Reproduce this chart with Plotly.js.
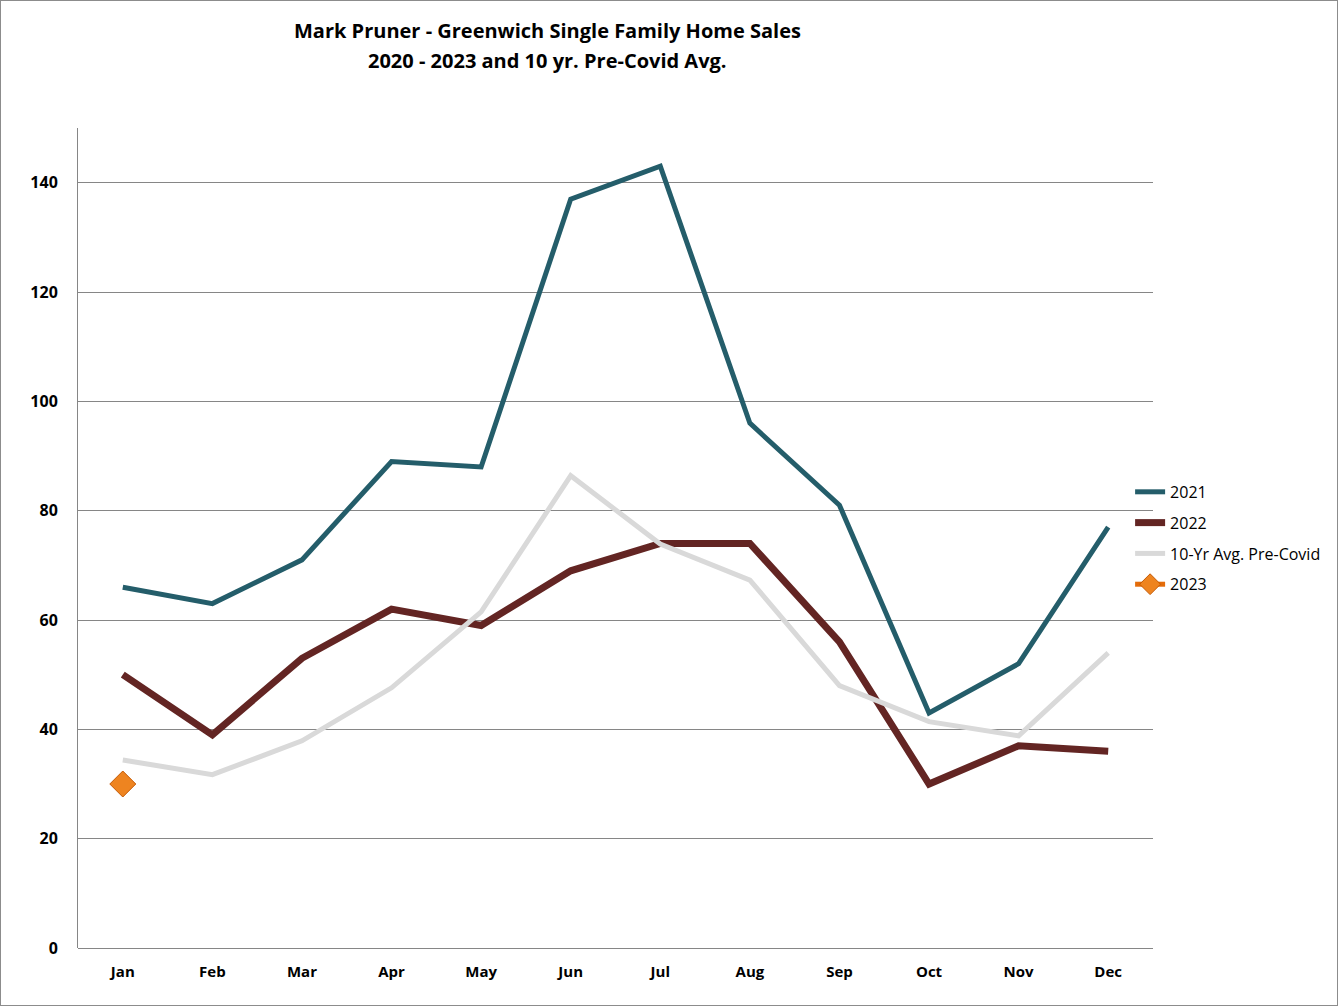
<!DOCTYPE html>
<html>
<head>
<meta charset="utf-8">
<script src="https://cdn.plot.ly/plotly-3.0.1.min.js"></script>
<style>
html,body{margin:0;padding:0;background:#fff;}
#wrap{position:relative;width:1338px;height:1006px;}
#chart{width:1338px;height:1006px;}
#frame{position:absolute;left:0;top:0;width:1338px;height:1006px;box-sizing:border-box;border:1px solid #8c8c8c;pointer-events:none;}
</style>
</head>
<body>
<div id="wrap"><div id="chart"></div><div id="frame"></div></div>
<script>
const months = ["Jan","Feb","Mar","Apr","May","Jun","Jul","Aug","Sep","Oct","Nov","Dec"];
const sales2021 = [66,63,71,89,88,137,143,96,81,43,52,77];
const sales2022 = [50,39,53,62,59,69,74,74,56,30,37,36];
const avgPreCovid = [34.4,31.7,37.9,47.6,61.5,86.4,73.9,67.3,48,41.4,38.8,54];
const sales2023 = [30];
const months2023 = months.slice(0, sales2023.length);
const titleLines = ["Mark Pruner - Greenwich Single Family Home Sales", "2020 - 2023 and 10 yr. Pre-Covid Avg."];

const font = "'Open Sans', 'Noto Sans', sans-serif";

const traces = [
  {x: months, y: sales2021, name: "2021", type: "scatter", mode: "lines", legendgroup: "g1",
   line: {color: "#245d6a", width: 5}},
  {x: months, y: sales2022, name: "2022", type: "scatter", mode: "lines", legendgroup: "g2",
   line: {color: "#632523", width: 7}},
  {x: months, y: avgPreCovid, name: "10-Yr Avg. Pre-Covid", type: "scatter", mode: "lines", legendgroup: "g3",
   line: {color: "#d9d9d9", width: 5}},
  {x: months2023, y: sales2023, name: "2023", type: "scatter", mode: "lines+markers", legendgroup: "g4",
   line: {color: "#e46c0a", width: 5},
   marker: {symbol: "diamond", size: 20, color: "#ee8420", line: {color: "#c55a05", width: 1}}}
];

const titleY = [1.1183, 1.0829];
const annotations = titleLines.map((t, i) => ({
  text: "<b>" + t + "</b>", xref: "paper", yref: "paper",
  x: 0.4372, y: titleY[i], xanchor: "center", yanchor: "middle",
  showarrow: false, font: {size: 20, family: font, color: "#000"}
}));

const layout = {
  width: 1338, height: 1006,
  margin: {l: 78, r: 185, t: 128, b: 58, autoexpand: false},
  paper_bgcolor: "#ffffff", plot_bgcolor: "#ffffff",
  font: {family: font, color: "#000"},
  annotations: annotations,
  showlegend: true,
  legend: {
    x: 0.9787, xanchor: "left", y: 0.4995, yanchor: "middle",
    font: {size: 16, family: font, color: "#000"},
    tracegroupgap: 7, itemwidth: 30, bgcolor: "rgba(0,0,0,0)"
  },
  xaxis: {
    type: "category", range: [-0.5, 11.5], automargin: false,
    showgrid: false, zeroline: false, showline: false,
    ticks: "", tickfont: {size: 15, family: font, color: "#000", weight: "bold"},
    ticklabelstandoff: 13, fixedrange: true
  },
  yaxis: {
    range: [0, 150], dtick: 20, tick0: 0, automargin: false,
    showgrid: true, gridcolor: "#868686", gridwidth: 1,
    zeroline: true, zerolinecolor: "#868686", zerolinewidth: 1,
    showline: true, linecolor: "#868686", linewidth: 1,
    ticks: "", tickfont: {size: 16, family: font, color: "#000", weight: "bold"},
    ticklabelstandoff: 16, fixedrange: true
  }
};

Plotly.newPlot("chart", traces, layout, {displayModeBar: false, staticPlot: true});
</script>
</body>
</html>
